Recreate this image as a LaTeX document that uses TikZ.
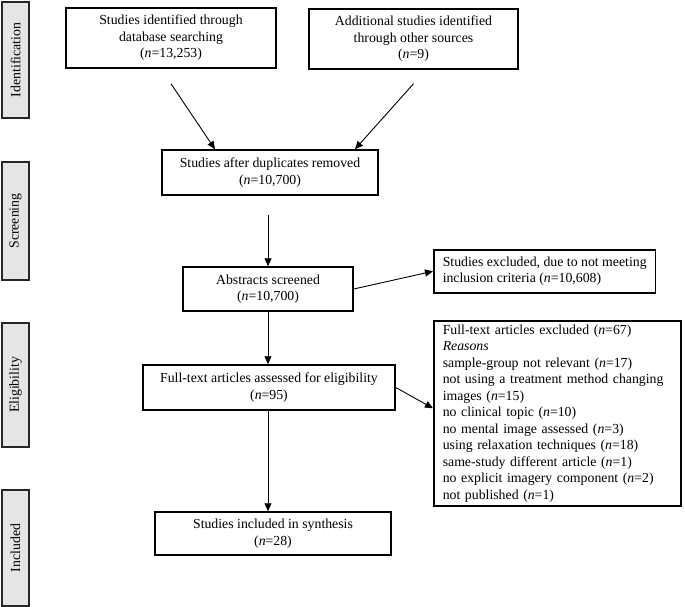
\documentclass[tikz,border=0pt]{standalone}
\usepackage{fontspec}
\setmainfont{Liberation Serif}
\usetikzlibrary{arrows.meta}
\begin{document}
\begin{tikzpicture}[x=1pt,y=-1pt,
  box/.style={draw, line width=1.5pt, align=center, inner sep=0pt, font=\fontsize{13.8}{16.5}\selectfont},
  side/.style={draw=black!85, line width=1.8pt, fill=black!10, inner sep=0pt, rotate=90, minimum height=27pt, font=\fontsize{13.8}{16}\selectfont},
  arr/.style={line width=0.9pt, -{Triangle[length=8pt,width=7pt]}}]
\useasboundingbox (0,0) rectangle (685,607);
% side bars
\node[side, minimum width=116pt] (sid) at (15.5,60) {Identification};
\node[side, minimum width=118pt] (sscr) at (15.5,221) {Screening};
\node[side, minimum width=124pt] (selig) at (15.5,385) {Eligibility};
\node[side, minimum width=116pt] (sincl) at (15.5,548) {Included};
% boxes
\node[box, minimum width=210pt, minimum height=60pt] (b1) at (171,38) {Studies identified through\\database searching\\(\textit{n}=13,253)};
\node[box, minimum width=209pt, minimum height=60pt] (b2) at (413.5,39) {Additional studies identified\\through other sources\\(\textit{n}=9)};
\node[box, minimum width=216pt, minimum height=45pt] (b3) at (270,172.5) {Studies after duplicates removed\\(\textit{n}=10,700)};
\node[box, minimum width=170pt, minimum height=44pt] (abs) at (268,289) {Abstracts screened\\(\textit{n}=10,700)};
\node[box, align=left, inner xsep=9pt, minimum height=43pt, anchor=north west] (ex1) at (433,249) {Studies excluded, due to not meeting\\inclusion criteria (\textit{n}=10,608)};
\node[box, minimum width=252pt, minimum height=45pt] (ft) at (269,387.5) {Full-text articles assessed for eligibility\\(\textit{n}=95)};
\node[box, align=left, text width=229pt, inner xsep=9pt, minimum height=185pt, anchor=north west] (ex2) at (433,320) {Full-text articles excluded (\textit{n}=67)\\\textit{Reasons}\\sample-group not relevant (\textit{n}=17)\\not using a treatment method changing\\images (\textit{n}=15)\\no clinical topic (\textit{n}=10)\\no mental image assessed (\textit{n}=3)\\using relaxation techniques (\textit{n}=18)\\same-study different article (\textit{n}=1)\\no explicit imagery component (\textit{n}=2)\\not published (\textit{n}=1)};
\node[box, minimum width=236pt, minimum height=43pt] (inc) at (273,533.5) {Studies included in synthesis\\(\textit{n}=28)};
% connectors
\coordinate (a1s) at ([yshift=-15pt]b1.south);
\coordinate (a2s) at ([yshift=-14pt]b2.south);
\coordinate (a3s) at (268,215);
\draw[arr] (a1s) -- ([xshift=-55pt]b3.north);
\draw[arr] (a2s) -- ([xshift=85pt]b3.north);
\draw[arr] (a3s) -- (abs.north);
\draw[arr] (abs.south) -- (abs.south |- ft.north);
\draw[arr] (abs.south |- ft.south) -- (abs.south |- inc.north);
\draw[arr] (abs.east) -- (ex1.west);
\draw[arr] (ft.east) -- ([yshift=5pt]ex2.west);
\end{tikzpicture}
\end{document}
